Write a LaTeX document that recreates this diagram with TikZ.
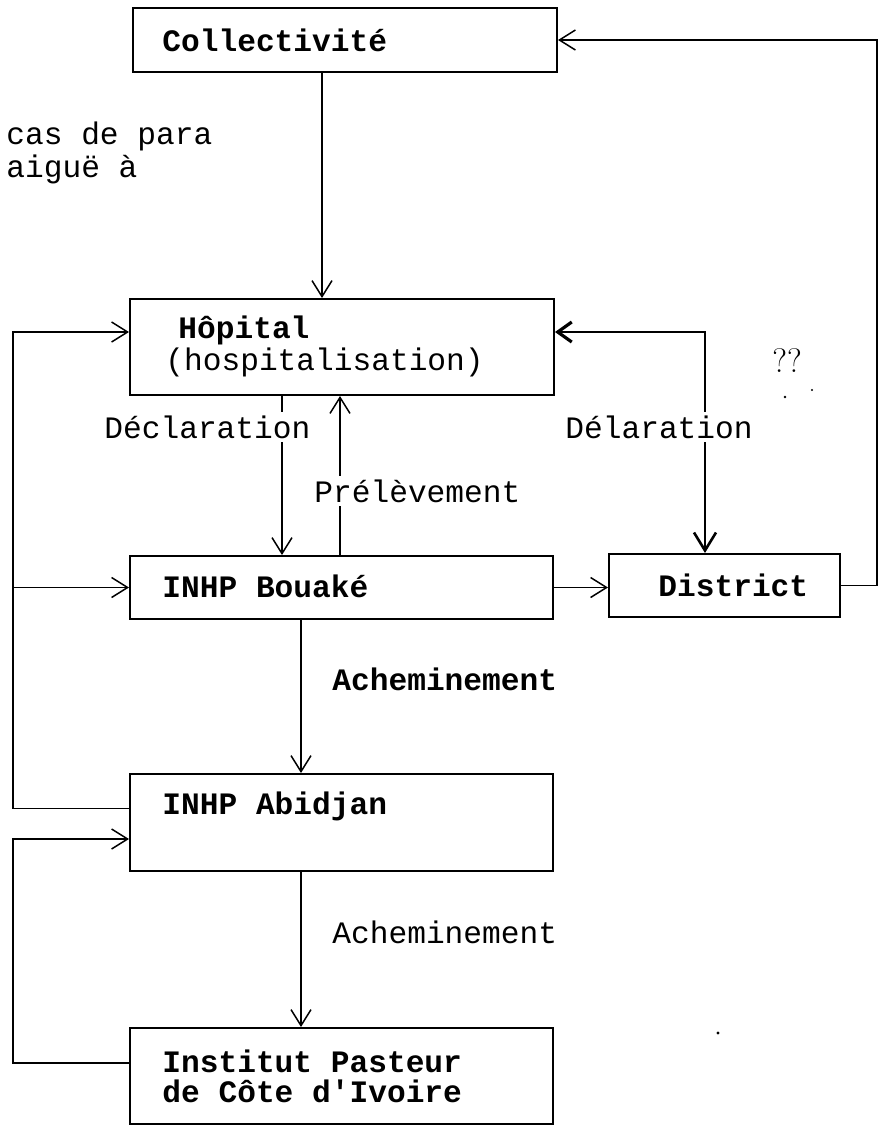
\documentclass[tikz,border=0pt]{standalone}
\usepackage{fontspec}
\setmonofont{Liberation Mono}
\usetikzlibrary{arrows.meta}
\begin{document}
\begin{tikzpicture}[x=0.5pt,y=-0.5pt,
  box/.style={draw, line width=1pt, inner sep=0pt},
  txt/.style={font=\fontsize{15.6}{16.5}\selectfont\ttfamily, inner sep=0pt, anchor=west},
  btxt/.style={font=\fontsize{15.6}{16.5}\selectfont\ttfamily\bfseries, inner sep=0pt, anchor=west},
  lbl/.style={txt, fill=white, inner xsep=0pt, inner ysep=2pt},
  conn/.style={line width=0.75pt},
  arr/.style={conn, -{Straight Barb[length=8pt,width=10pt,line width=0.75pt]}},
  dbl/.style={conn, {Straight Barb[length=7pt,width=10pt,line width=1.6pt]}-{Straight Barb[length=9pt,width=11pt,line width=1.3pt]}},
]
\useasboundingbox (0,0) rectangle (878,1131);

% boxes
\node[box, minimum width=212pt, minimum height=32pt] (coll) at (345,40) {};
\node[box, minimum width=212pt, minimum height=48pt] (hop) at (342,347) {};
\node[box, minimum width=211.5pt, minimum height=31.5pt] (bouake) at (341.5,587.5) {};
\node[box, minimum width=115.5pt, minimum height=31.5pt] (district) at (724.5,585.5) {};
\node[box, minimum width=211.5pt, minimum height=48.5pt] (abidjan) at (341.5,822.5) {};
\node[box, minimum width=211.5pt, minimum height=48pt] (pasteur) at (341.5,1076) {};

% box texts
\node[btxt] (tcoll) at (162,40) {Collectivit\'e};
\node[btxt] (thop1) at (178,330) {H\^opital};
\node[txt] (thop2) at (165,362) {(hospitalisation)};
\node[btxt] (tbouake) at (162,586) {INHP Bouak\'e};
\node[btxt] (tdistrict) at (658,585) {District};
\node[btxt] (tabidjan) at (162,806) {INHP Abidjan};
\node[btxt] (tpast1) at (162,1061) {Institut Pasteur};
\node[btxt] (tpast2) at (162,1091) {de C\^ote d'Ivoire};

% free text
\node[txt, align=left, anchor=west] (cas) at (6,153) {cas de para\\aigu\"e \`a};

% connectors
\draw[arr] ([xshift=-11.5pt]coll.south) -- ([xshift=-11.5pt]coll.south |- hop.north);
\draw[arr] (district.east) -- ++(18pt,0) |- (coll.east);
\draw[arr] ([yshift=7pt]abidjan.west) -- ++(-58pt,0) |- ([yshift=7.5pt]hop.west);
\draw[arr] ([xshift=-58pt]bouake.west) -- (bouake.west);
\draw[arr] ([yshift=6.5pt]pasteur.west) -- ++(-58pt,0) |- ([yshift=-8.25pt]abidjan.west);
\draw[arr] ([xshift=-30pt]hop.south) -- ([xshift=-30pt]hop.south |- bouake.north);
\draw[arr] ([xshift=-0.75pt]bouake.north) -- ([xshift=-0.75pt]bouake.north |- hop.south);
\draw[dbl] ([yshift=7.5pt]hop.east) -| ([xshift=-9.75pt]district.north);
\draw[arr] (bouake.east) -- (bouake.east -| district.west);
\draw[arr] ([xshift=-20.25pt]bouake.south) -- ([xshift=-20.25pt]bouake.south |- abidjan.north);
\draw[arr] ([xshift=-20.25pt]abidjan.south) -- ([xshift=-20.25pt]abidjan.south |- pasteur.north);

% connector labels
\node[lbl] (ldecl) at (104,427) {D\'eclaration};
\node[lbl] (ldelar) at (565,427) {D\'elaration};
\node[lbl] (lprel) at (314,491) {Pr\'el\`evement};
\node[btxt] (lach1) at (332,679) {Acheminement};
\node[txt] (lach2) at (332,932) {Acheminement};

% handwritten marks
\node[font=\fontsize{17}{17}\selectfont, inner sep=0pt] (qq) at (787,361) {??};
\fill (785,397) circle (1.3);
\fill (812,390) circle (1.1);
\fill (718,1033) circle (1.6);
\end{tikzpicture}
\end{document}
